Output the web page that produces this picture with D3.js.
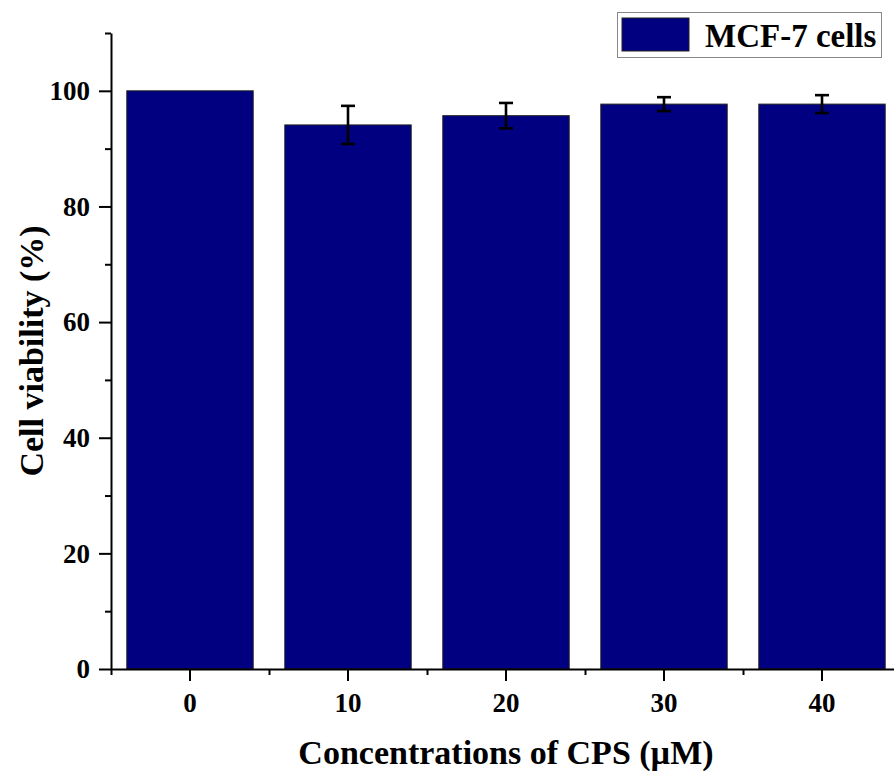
<!DOCTYPE html>
<html>
<head>
<meta charset="utf-8">
<script src="https://cdn.jsdelivr.net/npm/d3@7/dist/d3.min.js"></script>
<style>
  html, body { margin: 0; padding: 0; background: #fff; }
  svg { display: block; }
</style>
</head>
<body>
<svg id="chart" width="894" height="771"></svg>
<script>
// Cell viability of MCF-7 cells after CPS treatment
const concentrations = ["0", "10", "20", "30", "40"];
const viability = [100, 94.1, 95.7, 97.7, 97.7];
const viabilityError = [0, 3.3, 2.2, 1.2, 1.55];
const yMajorTicks = [0, 20, 40, 60, 80, 100];
const yMinorTicks = [10, 30, 50, 70, 90, 110];
const seriesName = "MCF-7 cells";
const xTitle = "Concentrations of CPS (\u00B5M)";
const yTitle = "Cell viability (%)";

const FONT = "'Liberation Serif', 'Times New Roman', 'DejaVu Serif', serif";
const svg = d3.select("#chart");
const plot = { left: 111, right: 901, top: 33, bottom: 669 };
const barColor = "#000080";

const x = d3.scaleBand()
  .domain(concentrations)
  .range([plot.left, plot.right])
  .paddingInner(0.2)
  .paddingOuter(0.1);

const y = d3.scaleLinear()
  .domain([0, 110])
  .range([plot.bottom, plot.top]);

// bars
svg.append("g")
  .selectAll("rect")
  .data(concentrations)
  .join("rect")
  .attr("x", d => x(d))
  .attr("y", (d, i) => y(viability[i]))
  .attr("width", x.bandwidth())
  .attr("height", (d, i) => y(0) - y(viability[i]))
  .attr("fill", barColor)
  .attr("stroke", "#222")
  .attr("stroke-width", 1);

// error bars
const errG = svg.append("g")
  .attr("stroke", "#000")
  .attr("stroke-width", 2.6)
  .attr("fill", "none");
concentrations.forEach((c, i) => {
  if (!viabilityError[i]) return;
  const cx = x(c) + x.bandwidth() / 2;
  const hi = y(viability[i] + viabilityError[i]);
  const lo = y(viability[i] - viabilityError[i]);
  errG.append("line").attr("x1", cx).attr("x2", cx).attr("y1", hi).attr("y2", lo);
  errG.append("line").attr("x1", cx - 7).attr("x2", cx + 7).attr("y1", hi).attr("y2", hi);
  errG.append("line").attr("x1", cx - 7).attr("x2", cx + 7).attr("y1", lo).attr("y2", lo);
});

// y axis
const yAxis = svg.append("g")
  .attr("transform", `translate(${plot.left},0)`)
  .call(d3.axisLeft(y).tickValues(yMajorTicks).tickSize(12).tickSizeOuter(0).tickPadding(9).tickFormat(d3.format("d")));
svg.append("g")
  .attr("transform", `translate(${plot.left},0)`)
  .call(d3.axisLeft(y).tickValues(yMinorTicks).tickSize(6).tickSizeOuter(0).tickFormat(""))
  .call(g => g.select(".domain").remove());

// x axis
const xAxis = svg.append("g")
  .attr("transform", `translate(0,${plot.bottom})`)
  .call(d3.axisBottom(x).tickSize(12).tickSizeOuter(0).tickPadding(12));
const step = x.step();
const xEdges = d3.scaleLinear().domain([0, concentrations.length]).range([plot.left, plot.left + step * concentrations.length]);
svg.append("g")
  .attr("transform", `translate(0,${plot.bottom})`)
  .call(d3.axisBottom(xEdges).tickValues(d3.range(0, concentrations.length)).tickSize(6).tickSizeOuter(0).tickFormat(""))
  .call(g => g.select(".domain").remove());

svg.selectAll(".domain, .tick line").attr("stroke", "#000").attr("stroke-width", 2);
svg.selectAll("g").attr("font-family", null).attr("font-size", null);
[yAxis, xAxis].forEach(ax => ax.selectAll(".tick text")
  .attr("fill", "#000")
  .style("font-family", FONT)
  .style("font-weight", "bold")
  .style("font-size", "27px"));

// axis titles
svg.append("text")
  .attr("x", (plot.left + 901) / 2)
  .attr("y", 764)
  .attr("text-anchor", "middle")
  .style("font-family", FONT).style("font-weight", "bold")
  .style("font-size", "34px")
  .text(xTitle);

svg.append("text")
  .attr("transform", `translate(43,${(plot.top + plot.bottom) / 2}) rotate(-90)`)
  .attr("text-anchor", "middle")
  .style("font-family", FONT).style("font-weight", "bold")
  .style("font-size", "34px")
  .text(yTitle);

// legend
const legend = svg.append("g");
legend.append("rect")
  .attr("x", 617.5).attr("y", 12.5).attr("width", 264).attr("height", 45)
  .attr("fill", "#fff").attr("stroke", "#888").attr("stroke-width", 1);
legend.append("rect")
  .attr("x", 622).attr("y", 18).attr("width", 67).attr("height", 33)
  .attr("fill", barColor).attr("stroke", "#222").attr("stroke-width", 1);
legend.append("text")
  .attr("x", 705).attr("y", 47)
  .style("font-family", FONT).style("font-weight", "bold")
  .style("font-size", "33px")
  .text(seriesName);
</script>
</body>
</html>
